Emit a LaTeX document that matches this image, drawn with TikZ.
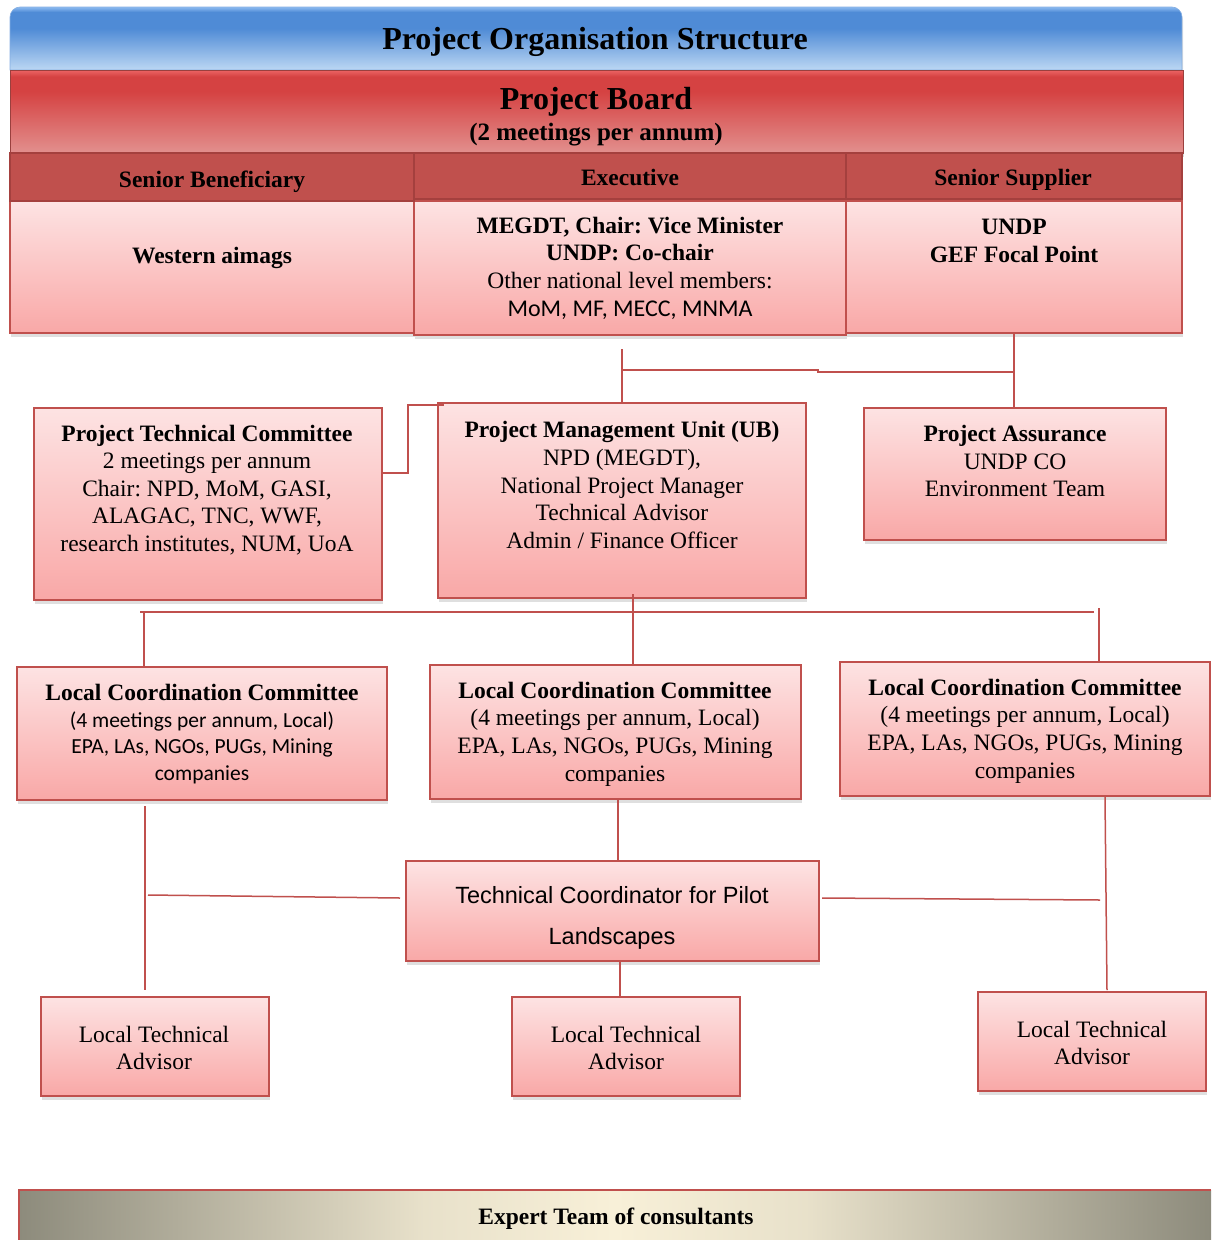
\documentclass[tikz,border=0pt]{standalone}
\usepackage{fontspec}
\setmainfont{Liberation Serif}
\newfontfamily\arialf{Liberation Sans}
\newfontfamily\calf{Carlito}
\usetikzlibrary{shadows}
\frenchspacing
\definecolor{bred}{HTML}{C0504D}
\definecolor{bdark}{HTML}{A4403E}
\definecolor{pinktop}{HTML}{FDE3E3}
\definecolor{pinkbot}{HTML}{F9A8A7}
\definecolor{boardbot}{HTML}{E2908E}
\definecolor{boardmid}{HTML}{D54242}
\definecolor{boardtop}{HTML}{EC6464}
\definecolor{bluebot}{HTML}{BCD7F3}
\definecolor{bluemid}{HTML}{4F8BD6}
\definecolor{bluetop}{HTML}{8CBBF0}
\definecolor{greyend}{HTML}{8D8B7C}
\definecolor{cream}{HTML}{F8F0D8}
\pgfdeclareverticalshading{boardsh}{100bp}{color(0bp)=(boardbot); color(25bp)=(boardbot); color(62bp)=(boardmid); color(71bp)=(boardmid); color(75bp)=(boardtop); color(100bp)=(boardtop)}
\pgfdeclareverticalshading{bluesh}{100bp}{color(0bp)=(bluebot); color(25bp)=(bluebot); color(58bp)=(bluemid); color(71bp)=(bluemid); color(75bp)=(bluetop); color(100bp)=(bluetop)}
\pgfdeclarehorizontalshading{expsh}{100bp}{color(0bp)=(greyend); color(25bp)=(greyend); color(42bp)=(cream!85!greyend); color(50bp)=(cream); color(58bp)=(cream!85!greyend); color(75bp)=(greyend); color(100bp)=(greyend)}
\newcommand\calline[2]{{\calf\fontsize{#1}{27.6}\selectfont #2}}
\begin{document}
\begin{tikzpicture}[x=1pt,y=-1pt,
  pinkbox/.style={draw=bred, line width=1.6pt, top color=pinktop, bottom color=pinkbot,
    inner sep=0pt, outer sep=0pt, anchor=north west,
    drop shadow={shadow xshift=1pt, shadow yshift=-4pt, opacity=0.25}},
  headbox/.style={draw=bdark, line width=2pt, fill=bred, inner sep=0pt, outer sep=0pt, anchor=north west},
  txt/.style={inner sep=0pt, align=center, font=\fontsize{23.5}{27.6}\selectfont},
  btxt/.style={txt, font=\fontsize{23.5}{27.6}\selectfont\bfseries},
  conn/.style={draw=bred, line width=1.5pt}]
\useasboundingbox (0,0) rectangle (1211,1240);

% ---- title bar
\path[shading=bluesh, draw=bluemid!70!white, line width=0.6pt,
  drop shadow={shadow xshift=1pt, shadow yshift=-3pt, opacity=0.25}]
  (10,70) [rounded corners=10pt] -- (10,7) -- (1182,7) [sharp corners] -- (1182,70) -- cycle;
\node[inner sep=0pt, font=\fontsize{32}{38}\selectfont\bfseries] (ttl) at (595,42) {Project Organisation Structure};

% ---- project board
\node[anchor=north west, minimum width=1173, minimum height=83, inner sep=0pt, outer sep=0pt,
  shading=boardsh, draw=bred!80!black, line width=0.6pt,
  drop shadow={shadow xshift=1pt, shadow yshift=-4pt, opacity=0.3}] (board) at (10,70) {};
\node[inner sep=0pt, font=\fontsize{32}{38}\selectfont\bfseries] (boardt) at (596,102) {Project Board};
\node[inner sep=0pt, font=\fontsize{25}{30}\selectfont\bfseries] (boards) at (596,135) {(2 meetings per annum)};

% ---- body cells
\node[pinkbox, minimum width=404, minimum height=132] (wa) at (10,201) {};
\node[pinkbox, minimum width=432, minimum height=134] (ex) at (414,201) {};
\node[pinkbox, minimum width=336, minimum height=132] (sup) at (846,201) {};

% ---- header cells
\node[headbox, minimum width=404, minimum height=48] (hsb) at (10,153) {};
\node[headbox, minimum width=432, minimum height=46] (hex) at (414,153) {};
\node[headbox, minimum width=336, minimum height=46] (hss) at (846,153) {};
\node[btxt] (hsbt) at (212,182) {Senior Beneficiary};
\node[btxt] (hext) at (630,177) {Executive};
\node[btxt] (hsst) at (1013,180) {Senior Supplier};

\node[btxt] (wat) at (212,258) {Western aimags};
\node[txt] (ext) at (630,268) {\textbf{MEGDT, Chair: Vice Minister}\\\textbf{UNDP: Co-chair}\\Other national level members:\\\calline{24}{MoM, MF, MECC, MNMA}};
\node[btxt] (supt) at (1014,241) {UNDP\\GEF Focal Point};

% ---- second level
\node[pinkbox, minimum width=348, minimum height=192] (ptc) at (34,408) {};
\node[pinkbox, minimum width=368, minimum height=195] (pmu) at (438,403) {};
\node[pinkbox, minimum width=302, minimum height=132] (pa) at (864,408) {};
\node[txt] (ptct) at (207,490) {\textbf{Project Technical Committee}\\2 meetings per annum\\Chair: NPD, MoM, GASI,\\ALAGAC, TNC, WWF,\\research institutes, NUM, UoA};
\node[txt] (pmut) at (622,485) {\textbf{Project Management Unit (UB)}\\NPD (MEGDT),\\National Project Manager\\Technical Advisor\\Admin / Finance Officer};
\node[txt] (pat) at (1015,461) {\textbf{Project Assurance}\\UNDP CO\\Environment Team};

% ---- local coordination committees
\node[pinkbox, minimum width=370, minimum height=133] (lcc1) at (17,667) {};
\node[pinkbox, minimum width=371, minimum height=134] (lcc2) at (430,665) {};
\node[pinkbox, minimum width=370, minimum height=134] (lcc3) at (840,662) {};
\node[txt, font=\fontsize{23.5}{26.5}\selectfont] (lcc1t) at (202,734) {\textbf{Local Coordination Committee}\\\calline{21.5}{(4 meetings per annum, Local)}\\\calline{21.5}{EPA, LAs, NGOs, PUGs, Mining}\\\calline{21.5}{companies}};
\node[txt] (lcc2t) at (615,734) {\textbf{Local Coordination Committee}\\(4 meetings per annum, Local)\\EPA, LAs, NGOs, PUGs, Mining\\companies};
\node[txt] (lcc3t) at (1025,731) {\textbf{Local Coordination Committee}\\(4 meetings per annum, Local)\\EPA, LAs, NGOs, PUGs, Mining\\companies};

% ---- technical coordinator
\node[pinkbox, minimum width=413, minimum height=100] (tc) at (406,861) {};
\node[inner sep=0pt, align=center, font=\arialf\fontsize{23.5}{41}\selectfont] (tct) at (612,918) {Technical Coordinator for Pilot\\Landscapes};

% ---- local technical advisors
\node[pinkbox, minimum width=228, minimum height=99] (lta1) at (41,997) {};
\node[pinkbox, minimum width=228, minimum height=99] (lta2) at (512,997) {};
\node[pinkbox, minimum width=228, minimum height=99] (lta3) at (978,992) {};
\node[txt] (lta1t) at (154,1048) {Local Technical\\Advisor};
\node[txt] (lta2t) at (626,1048) {Local Technical\\Advisor};
\node[txt] (lta3t) at (1092,1043) {Local Technical\\Advisor};

% ---- expert team bar
\node[anchor=north west, minimum width=1192, minimum height=56, inner sep=0pt, outer sep=0pt,
  shading=expsh] (exp) at (19,1190) {};
\draw[bred, line width=1.8pt] (exp.south west) -- (exp.north west) -- (exp.north east);
\node[btxt] (expt) at (616,1219) {Expert Team of consultants};

% ---- connectors
\coordinate (exs) at (622,349);
\coordinate (jt) at (622,370);
\coordinate (jm1) at (818,370);
\coordinate (jm2) at (818,372);
\coordinate (js) at (1014,372);
\draw[conn] (exs) -- (pmu.north -| exs);
\draw[conn] (jt) -- (jm1) -- (jm2) -- (js);
\draw[conn] (sup.south -| js) -- (pa.north -| js);

\coordinate (k1) at (408,473);
\coordinate (k2) at (408,405);
\coordinate (k3) at (444,405);
\draw[conn] (ptc.east |- k1) -- (k1) -- (k2) -- (k3);

\coordinate (b1) at (140,612);
\coordinate (b2) at (1094,612);
\coordinate (bl) at (144,612);
\coordinate (bm) at (633,594);
\coordinate (br) at (1099,608);
\draw[conn] (b1) -- (b2);
\draw[conn] (bl) -- (lcc1.north -| bl);
\draw[conn] (bm) -- (lcc2.north -| bm);
\draw[conn] (br) -- (lcc3.north -| br);

\coordinate (jc) at (618,800);
\draw[conn] (lcc2.south -| jc) -- (tc.north -| jc);

\coordinate (l1) at (145,806);
\coordinate (l2) at (145,990);
\draw[conn] (l1) -- (l2);
\coordinate (h1) at (148,895);
\coordinate (h2) at (400,898);
\draw[conn] (h1) -- (h2);
\coordinate (h3) at (822,898);
\coordinate (h4) at (1100,900);
\draw[conn] (h3) -- (h4);
\coordinate (r1) at (1105,797);
\coordinate (r2) at (1107,990);
\draw[conn] (r1) -- (r2);
\coordinate (jb) at (620,962);
\draw[conn] (tc.south -| jb) -- (lta2.north -| jb);
\end{tikzpicture}
\end{document}
